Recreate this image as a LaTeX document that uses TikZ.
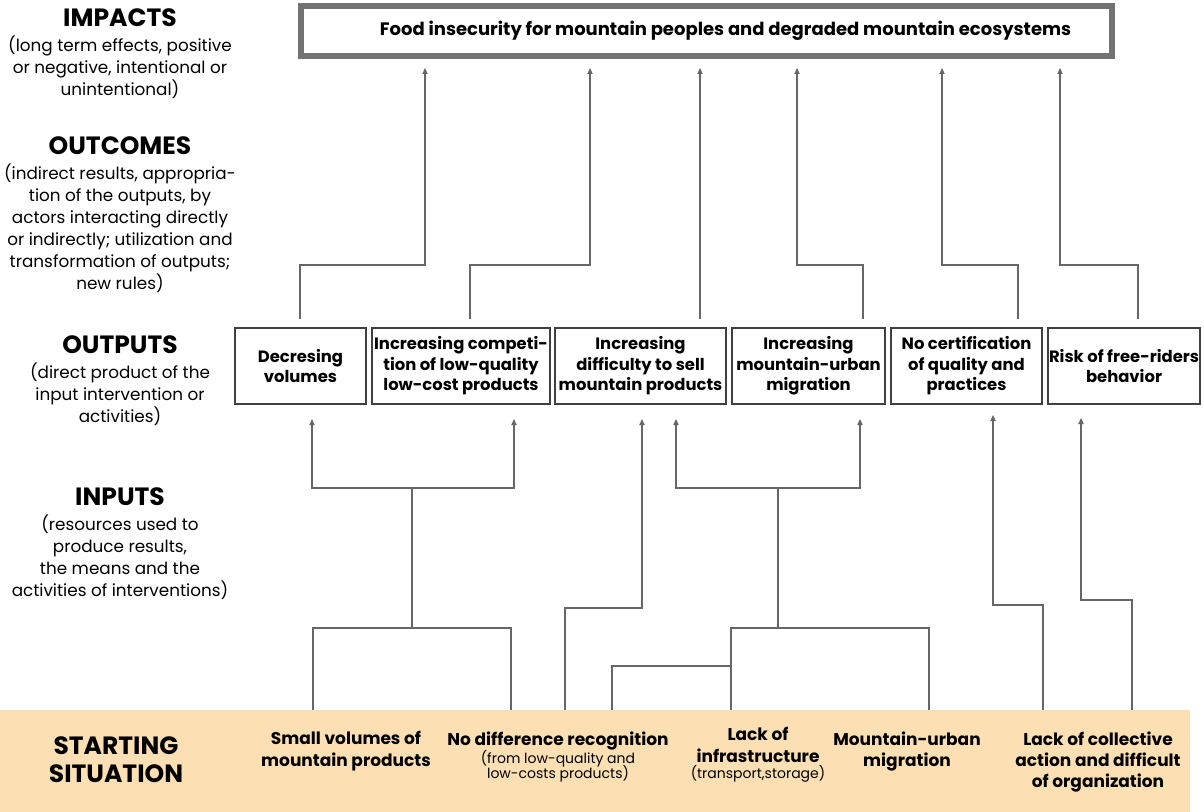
\documentclass[tikz,border=0pt]{standalone}
\usepackage{fontspec}
\setmainfont{Poppins}
\usepackage{tikz}
\usetikzlibrary{positioning}
\usetikzlibrary{arrows.meta}
\definecolor{peach}{RGB}{252,224,180}
\colorlet{framegray}{black!55}
\tikzstyle{head}=[inner sep=0, font=\bfseries\fontsize{12.5}{14}\selectfont]
\tikzstyle{desc}=[inner sep=0, align=center, font=\fontsize{8.4}{11}\selectfont]
\tikzstyle{outbox}=[draw=black!75, line width=1pt, minimum height=38pt, inner sep=0.5pt, align=center, font=\bfseries\fontsize{8.2}{10.3}\selectfont]
\tikzstyle{sit}=[inner sep=0, anchor=north, align=center, font=\bfseries\fontsize{8.5}{10.7}\selectfont]
\tikzstyle{link}=[draw=black!60, line width=0.65pt]
\newcommand{\smalltext}[1]{{\mdseries\fontsize{7}{8}\selectfont #1}}

\begin{document}
\begin{tikzpicture}[x=0.5pt, y=-0.5pt, >={Triangle[length=3pt,width=2.6pt]}]
    \useasboundingbox (0,0) rectangle (1204,812);
    \fill[peach] (0,710) rectangle (1190,812);

    % layer labels
    \node[head] (impacts) at (120,18) {IMPACTS};
    \node[desc, below=4pt of impacts] (impactsdesc) {(long term effects, positive\\or negative, intentional or\\unintentional)};
    \node[head] (outcomes) at (120,146) {OUTCOMES};
    \node[desc, below=4pt of outcomes] (outcomesdesc) {(indirect results, appropria-\\tion of the outputs, by\\actors interacting directly\\or indirectly; utilization and\\transformation of outputs;\\new rules)};
    \node[head] (outputs) at (120,345) {OUTPUTS};
    \node[desc, below=4pt of outputs] (outputsdesc) {(direct product of the\\input intervention or\\activities)};
    \node[head] (inputs) at (120,497) {INPUTS};
    \node[desc, below=4pt of inputs] (inputsdesc) {(resources used to\\produce results,\\the means and the\\activities of interventions)};
    \node[head, align=center] (start) at (116,760) {STARTING\\SITUATION};

    % impact
    \node[draw=framegray, line width=3pt, minimum width=405.5pt, minimum height=25pt, font=\bfseries\fontsize{9}{11}\selectfont] (food) at (706.5,31) {\hspace*{19pt}Food insecurity for mountain peoples and degraded mountain ecosystems};

    % outputs
    \node[outbox, minimum width=65.5pt] (o1) at (300.5,366) {Decresing\\volumes};
    \node[outbox, minimum width=89pt, right=2pt of o1] (o2) {Increasing competi-\\tion of low-quality\\low-cost products};
    \node[outbox, minimum width=85.5pt, right=1.5pt of o2] (o3) {Increasing\\difficulty to sell\\mountain products};
    \node[outbox, minimum width=76.5pt, right=2pt of o3] (o4) {Increasing\\mountain-urban\\migration};
    \node[outbox, minimum width=75.5pt, right=2pt of o4] (o5) {No certification\\of quality and\\practices};
    \node[outbox, minimum width=76pt, right=2pt of o5] (o6) {Risk of free-riders\\behavior};

    % starting situation
    \node[sit] (s1) at (346,731) {Small volumes of\\mountain products};
    \node[sit] (s2) at (558,731) {No difference recognition\\[-1.5pt]\smalltext{(from low-quality and}\\[-3pt]\smalltext{low-costs products)}};
    \node[sit] (s3) at (758,727) {Lack of\\infrastructure\\[-2.5pt]\smalltext{(transport,storage)}};
    \node[sit] (s4) at (907,731) {Mountain-urban\\migration};
    \node[sit] (s5) at (1098,731) {Lack of collective\\action and difficult\\of organization};

    % outputs -> impact
    \coordinate (p1) at (300,319);
    \coordinate (p2) at (470,319);
    \coordinate (p3) at (700,319);
    \coordinate (p4) at (863,319);
    \coordinate (p5) at (1018,319);
    \coordinate (p6) at (1138,319);
    \coordinate (i1) at (425,68);
    \coordinate (i2) at (590,68);
    \coordinate (i3) at (700,68);
    \coordinate (i4) at (797,68);
    \coordinate (i5) at (942,68);
    \coordinate (i6) at (1060,68);
    \draw[link,->] (p1) -- ++(0,-54) -| (i1);
    \draw[link,->] (p2) -- ++(0,-54) -| (i2);
    \draw[link,->] (p3) -- (i3);
    \draw[link,->] (p4) -- ++(0,-54) -| (i4);
    \draw[link,->] (p5) -- ++(0,-54) -| (i5);
    \draw[link,->] (p6) -- ++(0,-54) -| (i6);

    % starting situation -> outputs
    \coordinate (a1) at (313,710);
    \coordinate (a2) at (511,710);
    \coordinate (a3) at (565,710);
    \coordinate (a4) at (612,710);
    \coordinate (a5) at (731,710);
    \coordinate (a6) at (929,710);
    \coordinate (a7) at (1043,710);
    \coordinate (a8) at (1132,710);
    \coordinate (j1) at (412,628);
    \coordinate (j2) at (778,628);
    \coordinate (t1) at (312,419);
    \coordinate (t2) at (514,419);
    \coordinate (t3) at (642,419);
    \coordinate (t4) at (676,419);
    \coordinate (t5) at (860,419);
    \coordinate (t6) at (993,415);
    \coordinate (t7) at (1081,418);
    \draw[link] (a1) |- (j1) -| (a2);
    \draw[link,->] (j1) -- ++(0,-140) -| (t1);
    \draw[link,->] (j1) -- ++(0,-140) -| (t2);
    \draw[link,->] (a3) -- ++(0,-102) -| (t3);
    \draw[link] (a4) -- ++(0,-44) -| (a5);
    \draw[link] (a5) |- (j2) -| (a6);
    \draw[link,->] (j2) -- ++(0,-140) -| (t4);
    \draw[link,->] (j2) -- ++(0,-140) -| (t5);
    \draw[link,->] (a7) -- ++(0,-105) -| (t6);
    \draw[link,->] (a8) -- ++(0,-110) -| (t7);
\end{tikzpicture}
\end{document}
